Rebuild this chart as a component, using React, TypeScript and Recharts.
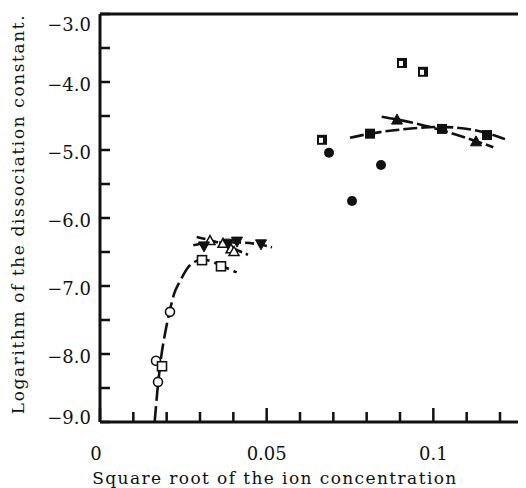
import React from "react";
import { ComposedChart, XAxis, YAxis, Scatter, Line, ReferenceLine } from "recharts";

// measured points (sqrt of ion concentration, log K)
const openCircles = [
  { x: 0.0168, y: -8.1 },
  { x: 0.0174, y: -8.41 },
  { x: 0.021, y: -7.38 },
];
const openSquares = [
  { x: 0.0186, y: -8.18 },
  { x: 0.0306, y: -6.62 },
  { x: 0.0363, y: -6.71 },
];
const openTriangles = [
  { x: 0.033, y: -6.34 },
  { x: 0.0369, y: -6.38 },
  { x: 0.0393, y: -6.46 },
  { x: 0.0402, y: -6.5 },
];
const downTriangles = [
  { x: 0.0312, y: -6.41 },
  { x: 0.0384, y: -6.37 },
  { x: 0.0411, y: -6.34 },
  { x: 0.0483, y: -6.38 },
];
const halfSquares = [
  { x: 0.0906, y: -3.72 },
  { x: 0.0969, y: -3.85 },
  { x: 0.0666, y: -4.85 },
];
const filledCircles = [
  { x: 0.0687, y: -5.04 },
  { x: 0.0843, y: -5.22 },
  { x: 0.0756, y: -5.75 },
];
const filledSquares = [
  { x: 0.081, y: -4.76 },
  { x: 0.1026, y: -4.69 },
  { x: 0.1161, y: -4.78 },
];
const filledTriangles = [
  { x: 0.0891, y: -4.56 },
  { x: 0.1128, y: -4.88 },
];

// hand-drawn curves
const lowCurve = [
  { x: 0.0164, y: -9.0 },
  { x: 0.0172, y: -8.55 },
  { x: 0.0182, y: -8.1 },
  { x: 0.0197, y: -7.65 },
  { x: 0.021, y: -7.35 },
  { x: 0.0222, y: -7.12 },
  { x: 0.024, y: -6.93 },
  { x: 0.0265, y: -6.72 },
  { x: 0.029, y: -6.63 },
  { x: 0.0306, y: -6.61 },
  { x: 0.0335, y: -6.64 },
  { x: 0.0363, y: -6.7 },
  { x: 0.041, y: -6.8 },
];
const flatCurve = [
  { x: 0.028, y: -6.4 },
  { x: 0.034, y: -6.36 },
  { x: 0.041, y: -6.36 },
  { x: 0.048, y: -6.39 },
  { x: 0.0516, y: -6.43 },
];
const dropCurve = [
  { x: 0.029, y: -6.28 },
  { x: 0.036, y: -6.37 },
  { x: 0.0405, y: -6.46 },
  { x: 0.0444, y: -6.54 },
];
const squareCurve = [
  { x: 0.075, y: -4.82 },
  { x: 0.081, y: -4.76 },
  { x: 0.09, y: -4.7 },
  { x: 0.102, y: -4.66 },
  { x: 0.116, y: -4.75 },
  { x: 0.1215, y: -4.84 },
];
const triangleCurve = [
  { x: 0.0845, y: -4.51 },
  { x: 0.0891, y: -4.55 },
  { x: 0.1026, y: -4.71 },
  { x: 0.1128, y: -4.87 },
  { x: 0.118, y: -4.96 },
];

const xTicks = [0, 0.01, 0.02, 0.03, 0.04, 0.05, 0.06, 0.07, 0.08, 0.09, 0.1, 0.11, 0.12];
const xLabels: Record<string, string> = { "0": "0", "0.05": "0.05", "0.1": "0.1" };
const yTicks = [-9, -8.5, -8, -7.5, -7, -6.5, -6, -5.5, -5, -4.5, -4, -3.5, -3];

const FONT = "'DejaVu Serif', serif";
const INK = "#111";

const XTick = ({ x, y, payload }: any) => {
  const v = payload.value;
  const label = xLabels[String(v)];
  const major = label !== undefined;
  return (
    <g>
      <line x1={x} x2={x} y1={y} y2={y - (major ? 14 : 10)} stroke={INK} strokeWidth={2.5} />
      {label !== undefined && (
        <text x={v === 0 ? x - 4 : x} y={y + 31} textAnchor="middle" dominantBaseline="central"
          fontFamily={FONT} fontSize={18} fill={INK}>
          {label}
        </text>
      )}
    </g>
  );
};

const YTick = ({ x, y, payload }: any) => {
  const v = payload.value;
  const isInt = Number.isInteger(v);
  const dy = v === -3 ? 10 : v === -9 ? -5 : 2;
  return (
    <g>
      <line x1={x} x2={x + 10} y1={y} y2={y} stroke={INK} strokeWidth={2.5} />
      {isInt && (
        <text x={x - 9} y={y + dy} textAnchor="end" dominantBaseline="central"
          fontFamily={FONT} fontSize={18} fill={INK}>
          {"\u2212" + Math.abs(v).toFixed(1)}
        </text>
      )}
    </g>
  );
};

const openCircle = ({ cx, cy }: any) => (
  <circle cx={cx} cy={cy} r={4.5} fill="#fff" stroke={INK} strokeWidth={1.6} />
);
const openSquare = ({ cx, cy }: any) => (
  <rect x={cx - 4.5} y={cy - 4.5} width={9} height={9} fill="#fff" stroke={INK} strokeWidth={1.6} />
);
const openTriangle = ({ cx, cy }: any) => (
  <path d={`M${cx},${cy - 5.5}L${cx + 5},${cy + 3.5}L${cx - 5},${cy + 3.5}Z`} fill="#fff" stroke={INK} strokeWidth={1.5} />
);
const downTriangle = ({ cx, cy }: any) => (
  <path d={`M${cx - 5.5},${cy - 4}L${cx + 5.5},${cy - 4}L${cx},${cy + 6}Z`} fill={INK} stroke={INK} strokeWidth={1} />
);
const upTriangle = ({ cx, cy }: any) => (
  <path d={`M${cx},${cy - 6}L${cx + 5.5},${cy + 4}L${cx - 5.5},${cy + 4}Z`} fill={INK} stroke={INK} strokeWidth={1} />
);
const filledSquare = ({ cx, cy }: any) => (
  <rect x={cx - 5} y={cy - 5} width={10} height={10} fill={INK} />
);
const filledCircle = ({ cx, cy }: any) => <circle cx={cx} cy={cy} r={5} fill={INK} />;
const halfSquare = ({ cx, cy }: any) => (
  <g>
    <rect x={cx - 5} y={cy - 5} width={10} height={10} fill={INK} />
    <rect x={cx - 3} y={cy - 2} width={4} height={5} fill="#fff" />
  </g>
);

const xTitle = (props: any) => {
  const vb = props.viewBox;
  return (
    <text x={vb.x + 175} y={vb.y + 56} textAnchor="middle" dominantBaseline="central"
      fontFamily={FONT} fontSize={17} fill={INK} letterSpacing={1.4}>
      Square root of the ion concentration
    </text>
  );
};
const yTitle = (props: any) => {
  const vb = props.viewBox;
  const cy = vb.y + 200;
  return (
    <text x={10} y={cy} transform={`rotate(-90 10 ${cy})`} textAnchor="middle" dominantBaseline="central"
      fontFamily={FONT} fontSize={17} fill={INK} letterSpacing={1.6}>
      Logarithm of the dissociation constant.
    </text>
  );
};

export default function App() {
  return (
    <ComposedChart width={518} height={480} margin={{ top: 6, right: 0, bottom: 0, left: 0 }}>
      <XAxis
        type="number"
        dataKey="x"
        domain={[0, 0.1278]}
        ticks={xTicks}
        interval={0}
        allowDataOverflow
        height={66}
        tickSize={0}
        tickMargin={0}
        tickLine={false}
        tick={<XTick />}
        axisLine={{ stroke: INK, strokeWidth: 3 }}
        label={xTitle}
      />
      <YAxis
        type="number"
        dataKey="y"
        domain={[-9, -3]}
        ticks={yTicks}
        interval={0}
        allowDataOverflow
        width={92}
        tickSize={0}
        tickMargin={0}
        tickLine={false}
        tick={<YTick />}
        axisLine={{ stroke: INK, strokeWidth: 3 }}
        label={yTitle}
      />
      <ReferenceLine y={-3} stroke={INK} strokeWidth={3} />

      <Line data={lowCurve} dataKey="y" type="monotone" stroke={INK} strokeWidth={2.6} strokeDasharray="16 5" dot={false} isAnimationActive={false} />
      <Line data={flatCurve} dataKey="y" type="monotone" stroke={INK} strokeWidth={2.6} strokeDasharray="9 4" dot={false} isAnimationActive={false} />
      <Line data={dropCurve} dataKey="y" type="monotone" stroke={INK} strokeWidth={2.6} strokeDasharray="9 4" dot={false} isAnimationActive={false} />
      <Line data={squareCurve} dataKey="y" type="monotone" stroke={INK} strokeWidth={2.6} strokeDasharray="14 4" dot={false} isAnimationActive={false} />
      <Line data={triangleCurve} dataKey="y" type="monotone" stroke={INK} strokeWidth={2.6} strokeDasharray="14 4" dot={false} isAnimationActive={false} />

      <Scatter data={openCircles} shape={openCircle} isAnimationActive={false} />
      <Scatter data={openSquares} shape={openSquare} isAnimationActive={false} />
      <Scatter data={openTriangles} shape={openTriangle} isAnimationActive={false} />
      <Scatter data={downTriangles} shape={downTriangle} isAnimationActive={false} />
      <Scatter data={halfSquares} shape={halfSquare} isAnimationActive={false} />
      <Scatter data={filledCircles} shape={filledCircle} isAnimationActive={false} />
      <Scatter data={filledSquares} shape={filledSquare} isAnimationActive={false} />
      <Scatter data={filledTriangles} shape={upTriangle} isAnimationActive={false} />
    </ComposedChart>
  );
}
